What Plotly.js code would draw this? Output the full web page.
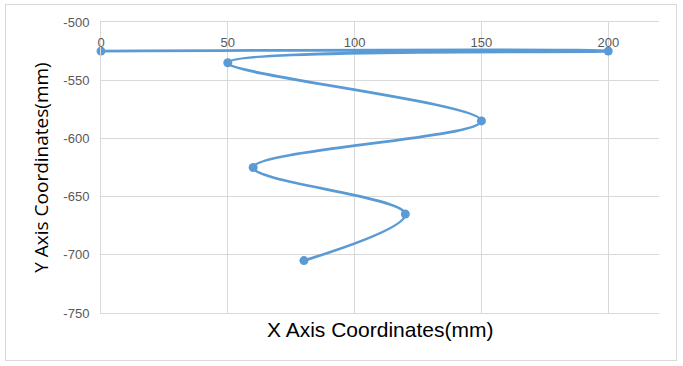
<!DOCTYPE html>
<html><head><meta charset="utf-8">
<script src="https://cdn.plot.ly/plotly-3.0.1.min.js"></script>
<style>html,body{margin:0;padding:0;background:#fff;}#wrap{position:relative;width:683px;height:366px;}#frame{position:absolute;left:5px;top:4px;width:672px;height:357px;border:1px solid #d9d9d9;box-sizing:border-box;pointer-events:none;}#chart{position:absolute;left:0;top:0;width:683px;height:366px;}</style>
</head><body><div id="wrap"><div id="chart"></div><div id="frame"></div></div>
<script>
const xValues = [0, 200, 50, 150, 60, 120, 80];
const yValues = [-525, -525, -535, -585, -625, -665, -705];
const xTicks = [0, 50, 100, 150, 200];
const xTickText = ['0', '50', '100', '150', '200'];
const yTicks = [-500, -550, -600, -650, -700, -750];
const yTickText = ['-500', '-550', '-600', '-650', '-700', '-750'];

Plotly.newPlot('chart', [{
  x: xValues, y: yValues, type: 'scatter', mode: 'lines+markers',
  line: {color: '#5B9BD5', width: 2.75, shape: 'spline', smoothing: 1},
  marker: {color: '#5B9BD5', size: 9},
  cliponaxis: false,
  hoverinfo: 'skip'
}], {
  width: 683, height: 366,
  margin: {l: 101, r: 24, t: 22, b: 53},
  paper_bgcolor: 'rgba(0,0,0,0)', plot_bgcolor: '#fff',
  showlegend: false,
  xaxis: {
    range: [0, 220], side: 'top', tickvals: xTicks, ticktext: xTickText,
    ticklabelposition: 'inside', ticklabelstandoff: 16, ticklabeloverflow: 'allow',
    showgrid: true, gridcolor: '#d9d9d9', gridwidth: 1, zeroline: false,
    showline: true, mirror: true, linecolor: '#d9d9d9', linewidth: 1, ticks: '',
    tickfont: {family: 'Liberation Sans Narrow, Liberation Sans, sans-serif', size: 13, color: '#595959'},
    title: {text: ''}
  },
  yaxis: {
    range: [-750, -500], tickvals: yTicks, ticktext: yTickText,
    showgrid: true, gridcolor: '#d9d9d9', gridwidth: 1, zeroline: false,
    showline: true, linecolor: '#d9d9d9', linewidth: 1, ticks: '', ticklabelstandoff: 8, ticklabeloverflow: 'allow',
    tickfont: {family: 'Liberation Sans Narrow, Liberation Sans, sans-serif', size: 13, color: '#595959'},
    title: {text: ''}
  },
  annotations: [
    {text: 'X Axis Coordinates(mm)', xref: 'paper', yref: 'paper', x: 0.5, y: -0.01, yanchor: 'top', xanchor: 'center', showarrow: false,
     font: {family: 'Liberation Sans Narrow, Liberation Sans, sans-serif', size: 21, color: '#000'}},
    {text: 'Y Axis Coordinates(mm)', xref: 'paper', yref: 'paper', x: -0.082, y: 0.5, xanchor: 'right', yanchor: 'middle', textangle: -90, showarrow: false,
     font: {family: 'Open Sans, sans-serif', size: 19, color: '#000'}}
  ]
}, {staticPlot: true});
</script></body></html>
